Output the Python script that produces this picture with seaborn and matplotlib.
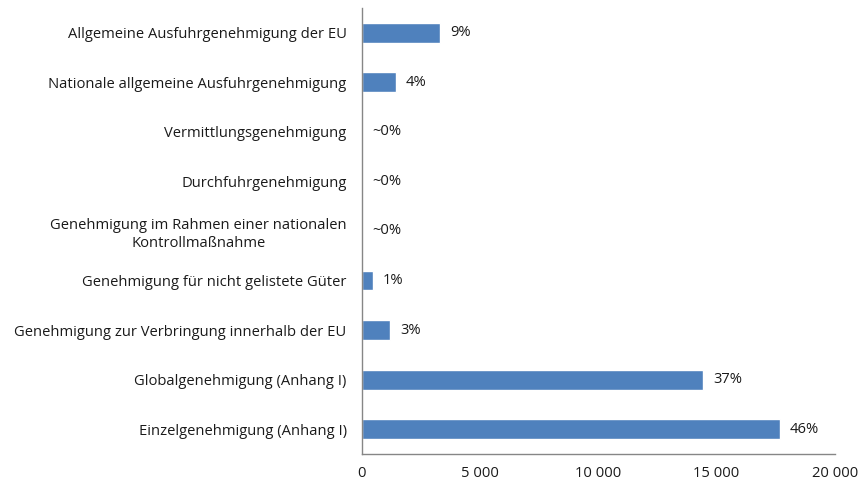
import numpy as np
import pandas as pd
import seaborn as sns
import matplotlib.pyplot as plt

categories = [
    'Allgemeine Ausfuhrgenehmigung der EU',
    'Nationale allgemeine Ausfuhrgenehmigung',
    'Vermittlungsgenehmigung',
    'Durchfuhrgenehmigung',
    'Genehmigung im Rahmen einer nationalen\nKontrollmaßnahme',
    'Genehmigung für nicht gelistete Güter',
    'Genehmigung zur Verbringung innerhalb der EU',
    'Globalgenehmigung (Anhang I)',
    'Einzelgenehmigung (Anhang I)',
]
counts = [3320, 1440, 15, 10, 10, 480, 1200, 14430, 17670]
shares = ['9%', '4%', '~0%', '~0%', '~0%', '1%', '3%', '37%', '46%']
x_ticks = [0, 5000, 10000, 15000, 20000]
x_tick_labels = ['0', '5 000', '10 000', '15 000', '20 000']

df = pd.DataFrame({'Genehmigungsart': categories, 'Anzahl': counts})

sns.set_style('white')
plt.rcParams['font.family'] = ['Open Sans', 'DejaVu Sans']

fig = plt.figure(figsize=(8.66, 4.84), dpi=100)
ax = fig.add_axes([0.418, 0.062, 0.546, 0.9215])

sns.barplot(data=df, x='Anzahl', y='Genehmigungsart', color='#4F81BD',
            saturation=1, width=0.4, ax=ax)

for i, (v, s) in enumerate(zip(counts, shares)):
    ax.annotate(s, xy=(v, i), xytext=(7, 0), textcoords='offset points',
                ha='left', va='center', fontsize=10.6, color='#1a1a1a')

ax.set_xlim(0, 20000)
ax.set_ylim(8.5, -0.5)
ax.set_xticks(x_ticks)
ax.set_xticklabels(x_tick_labels)
ax.set_xlabel('')
ax.set_ylabel('')
ax.tick_params(axis='both', length=0, labelsize=10.6, labelcolor='#1a1a1a')
ax.tick_params(axis='y', pad=11)
ax.tick_params(axis='x', pad=9)
for lbl in ax.get_yticklabels():
    lbl.set_multialignment('center')
    lbl.set_linespacing(1.3)

for side in ['top', 'right']:
    ax.spines[side].set_visible(False)
for side in ['left', 'bottom']:
    ax.spines[side].set_color('#868686')
    ax.spines[side].set_linewidth(1)

fig.savefig('out.png', dpi=100)
